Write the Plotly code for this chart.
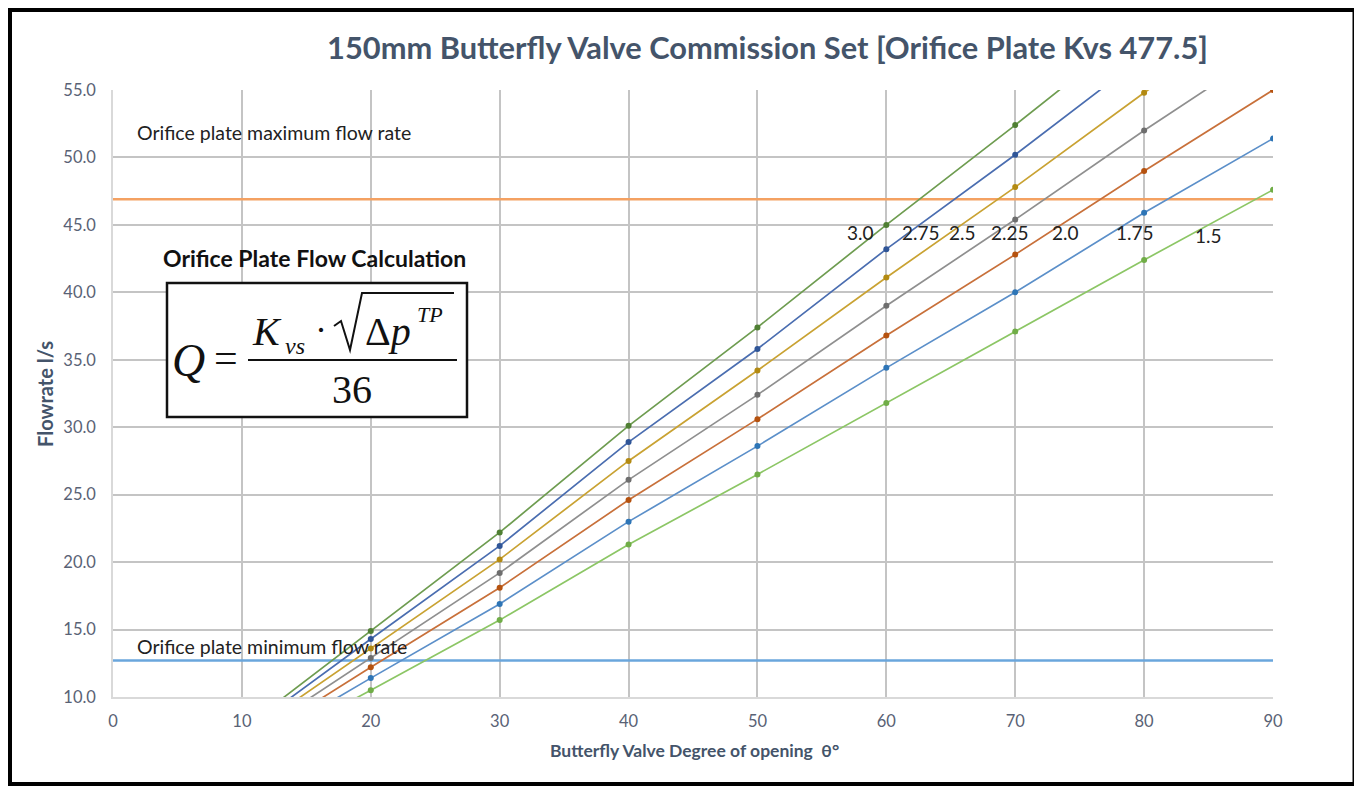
import plotly.graph_objects as go

# ---------------- data ----------------
opening_deg = [10, 20, 30, 40, 50, 60, 70, 80, 90]
series_names = ["3.0", "2.75", "2.5", "2.25", "2.0", "1.75", "1.5"]
flow_3_00 = [7.6, 14.9, 22.2, 30.1, 37.4, 45.0, 52.4, 60.0, 67.3]
flow_2_75 = [7.3, 14.3, 21.2, 28.9, 35.8, 43.2, 50.2, 57.5, 64.5]
flow_2_50 = [7.0, 13.6, 20.2, 27.5, 34.2, 41.1, 47.8, 54.8, 61.5]
flow_2_25 = [6.6, 12.9, 19.2, 26.1, 32.4, 39.0, 45.4, 52.0, 58.3]
flow_2_00 = [6.2, 12.2, 18.1, 24.6, 30.6, 36.8, 42.8, 49.0, 55.0]
flow_1_75 = [5.8, 11.4, 16.9, 23.0, 28.6, 34.4, 40.0, 45.9, 51.4]
flow_1_50 = [5.4, 10.5, 15.7, 21.3, 26.5, 31.8, 37.1, 42.4, 47.6]
series_values = [flow_3_00, flow_2_75, flow_2_50, flow_2_25, flow_2_00, flow_1_75, flow_1_50]

limit_x = [0, 90]
max_flow = 46.9
min_flow = 12.7

# ---------------- styles ----------------
line_colors = ["#6E9C50", "#4A6DB0", "#C9A232", "#8F8F8F", "#C8703A", "#5B8FC9", "#8CC665"]
marker_colors = ["#4F7F33", "#2F5597", "#B38A12", "#6E6E6E", "#B5520F", "#2E75B6", "#70AD47"]
label_pos = [(860, 233), (921, 232), (962, 232), (1010, 233), (1065, 233), (1135, 233), (1208, 235)]

OFF = 8  # page body offset
W, H = 1362 - OFF, 787 - OFF
L, R, T, B = 113, 1273, 90, 697  # plot area in screen pixels


def px(x):
    return (x - L) / (R - L)


def py(y):
    return (B - y) / (B - T)


fig = go.Figure()

fig.add_trace(go.Scatter(x=limit_x, y=[max_flow] * 2, mode="lines",
                         line=dict(color="#F4A162", width=2.5), hoverinfo="skip"))
fig.add_trace(go.Scatter(x=limit_x, y=[min_flow] * 2, mode="lines",
                         line=dict(color="#6AA6DC", width=2.5), hoverinfo="skip"))

for name, vals, lc, mc in zip(series_names, series_values, line_colors, marker_colors):
    fig.add_trace(go.Scatter(x=opening_deg, y=vals, mode="lines+markers", name=name,
                             line=dict(color=lc, width=1.7),
                             marker=dict(color=mc, size=6)))

ann = []
for name, (x, y) in zip(series_names, label_pos):
    ann.append(dict(x=px(x), y=py(y), xref="paper", yref="paper", text=name, showarrow=False,
                    font=dict(family="Lato", size=19, color="#222222"),
                    xanchor="center", yanchor="middle"))

ann.append(dict(x=px(135), y=py(132), xref="paper", yref="paper", text="Orifice plate maximum flow rate",
                showarrow=False, font=dict(family="Lato", size=19.5, color="#222222"),
                xanchor="left", yanchor="middle"))
ann.append(dict(x=px(135), y=py(646), xref="paper", yref="paper", text="Orifice plate minimum flow rate",
                showarrow=False, font=dict(family="Lato", size=19.5, color="#222222"),
                xanchor="left", yanchor="middle"))

ann.append(dict(x=px(314), y=py(258), xref="paper", yref="paper", text="<b>Orifice Plate Flow Calculation</b>",
                showarrow=False, font=dict(family="Lato", size=23, color="#111111"),
                xanchor="center", yanchor="middle"))

serif = "Liberation Serif"
formula_parts = [
    ("<i>Q</i>", 188, 360, 46),
    ("=", 226, 358, 42),
    ("<i>K</i>", 267, 331, 40),
    ("<i>vs</i>", 295, 346, 24),
    ("·", 321, 330, 36),
    ("Δ<i>p</i>", 388, 331, 40),
    ("<i>TP</i>", 430, 314, 22),
    ("36", 352, 389, 40),
]
for txt, x, y, s in formula_parts:
    ann.append(dict(x=px(x), y=py(y), xref="paper", yref="paper", text=txt, showarrow=False,
                    font=dict(family=serif, size=s, color="#111111"),
                    xanchor="center", yanchor="middle"))

ann.append(dict(x=px(45), y=py(394), xref="paper", yref="paper", text="<b>Flowrate l/s</b>",
                showarrow=False, textangle=-90, font=dict(family="Lato", size=20, color="#44546A"),
                xanchor="center", yanchor="middle"))
ann.append(dict(x=px(694), y=py(750), xref="paper", yref="paper",
                text="<b>Butterfly Valve Degree of opening  θ°</b>",
                showarrow=False, font=dict(family="Lato", size=17.5, color="#44546A"),
                xanchor="center", yanchor="middle"))

shapes = [
    dict(type="rect", xref="paper", yref="paper", x0=px(167), x1=px(467), y0=py(283), y1=py(417),
         line=dict(color="#111111", width=2.5), fillcolor="white", layer="above"),
    dict(type="line", xref="paper", yref="paper", x0=px(248), x1=px(457), y0=py(360), y1=py(360),
         line=dict(color="#111111", width=2)),
    dict(type="path", xref="paper", yref="paper",
         path=f"M {px(334)},{py(326)} L {px(341)},{py(321)} L {px(350)},{py(350)} "
              f"L {px(362)},{py(293)} L {px(454)},{py(293)}",
         line=dict(color="#111111", width=2)),
    dict(type="rect", xref="paper", yref="paper", x0=px(10), x1=px(1354.5), y0=py(10), y1=py(784),
         line=dict(color="#000000", width=4), layer="above"),
    dict(type="rect", xref="paper", yref="paper", x0=px(1357), x1=px(1364), y0=py(0), y1=py(790),
         line=dict(width=0), fillcolor="#EDEDED", layer="below"),
]

fig.update_layout(
    width=W, height=H,
    margin=dict(l=L - OFF, r=1362 - R, t=T - OFF, b=787 - B),
    paper_bgcolor="white", plot_bgcolor="white",
    showlegend=False,
    title=dict(text="<b>150mm Butterfly Valve Commission Set [Orifice Plate Kvs 477.5]</b>",
               x=(767.5 - OFF) / W, y=1 - (48 - OFF) / H, xref="container", yref="container",
               xanchor="center", yanchor="middle",
               font=dict(family="Lato", size=30.8, color="#44546A")),
    annotations=ann,
    shapes=shapes,
    font=dict(family="Lato"),
)

fig.update_xaxes(range=[0, 90], dtick=10, tick0=0, showgrid=True, gridcolor="#C4C4C4", gridwidth=1.5,
                 zeroline=False, showline=True, linecolor="#D9D9D9", linewidth=1.5,
                 ticks="", ticklabelstandoff=8,
                 tickfont=dict(family="Lato", size=16.5, color="#596275"))
fig.update_yaxes(range=[10, 55], dtick=5, tick0=10, tickformat=".1f", showgrid=True, gridcolor="#C4C4C4",
                 gridwidth=1.5, zeroline=False, showline=True, linecolor="#D9D9D9", linewidth=1.5,
                 ticks="", ticklabelstandoff=12,
                 tickfont=dict(family="Lato", size=16.5, color="#596275"))

fig.write_html("out.html")
